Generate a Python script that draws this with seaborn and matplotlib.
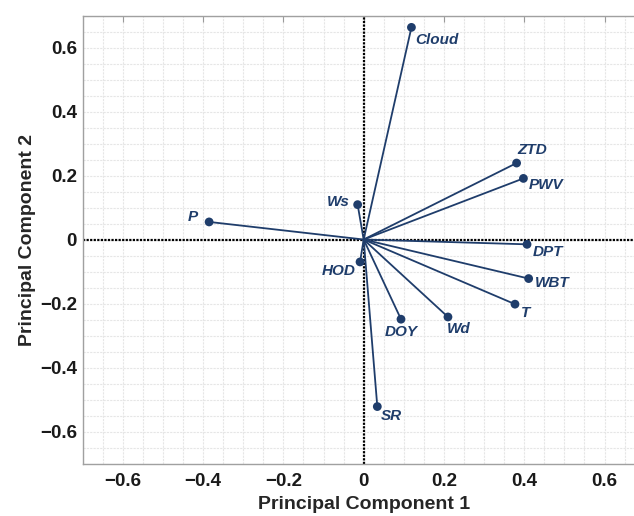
import pandas as pd
import matplotlib
matplotlib.use("Agg")
import matplotlib.pyplot as plt
import seaborn as sns
from matplotlib.ticker import MultipleLocator, FuncFormatter

# PCA loadings
variables = ['Cloud', 'ZTD', 'PWV', 'Ws', 'P', 'DPT', 'HOD', 'WBT', 'T', 'DOY', 'Wd', 'SR']
pc1 = [0.119, 0.381, 0.398, -0.015, -0.385, 0.407, -0.009, 0.411, 0.377, 0.093, 0.210, 0.034]
pc2 = [0.663, 0.239, 0.191, 0.109, 0.055, -0.015, -0.070, -0.122, -0.202, -0.249, -0.242, -0.522]

# label placement (pixel offsets from the point, horizontal alignment)
label_pos = {
    'Cloud': (4, -13, 'left'),
    'ZTD': (1, 13, 'left'),
    'PWV': (5, -7, 'left'),
    'Ws': (-8, 3, 'right'),
    'P': (-11, 5, 'right'),
    'DPT': (6, -8, 'left'),
    'HOD': (-4, -9, 'right'),
    'WBT': (6, -4, 'left'),
    'T': (6, -9, 'left'),
    'DOY': (0, -13, 'center'),
    'Wd': (-1, -12, 'left'),
    'SR': (4, -9, 'left'),
}

sns.set_theme(style='white')
plt.rcParams['font.family'] = ['Liberation Sans', 'DejaVu Sans']
plt.rcParams['axes.unicode_minus'] = True

navy = '#1f3d6b'

# long table: one row for the origin and one for the tip of every vector
rows = []
for v, x, y in zip(variables, pc1, pc2):
    rows.append({'var': v, 'pc1': 0.0, 'pc2': 0.0, 'end': 0})
    rows.append({'var': v, 'pc1': x, 'pc2': y, 'end': 1})
df = pd.DataFrame(rows)
tips = pd.DataFrame({'var': variables, 'pc1': pc1, 'pc2': pc2})

fig = plt.figure(figsize=(6.34, 5.16), dpi=100)
ax = fig.add_axes([0.1304, 0.1017, 0.8864, 0.8682])

ax.axhline(0, color='black', ls=(0, (1, 0.6)), lw=1.6, zorder=2)
ax.axvline(0, color='black', ls=(0, (1, 0.6)), lw=1.6, zorder=2)

sns.lineplot(data=df, x='pc1', y='pc2', units='var', estimator=None, sort=False,
             color=navy, lw=1.3, ax=ax, zorder=3)
sns.scatterplot(data=tips, x='pc1', y='pc2', color=navy, s=40, edgecolor='none',
                ax=ax, zorder=4)

for v, x, y in zip(variables, pc1, pc2):
    dx, dy, ha = label_pos[v]
    ax.annotate(v, (x, y), xytext=(dx, dy), textcoords='offset pixels',
                ha=ha, va='center', fontsize=11, fontweight='bold',
                fontstyle='italic', color=navy, zorder=5)

ax.set_xlim(-0.7, 0.7)
ax.set_ylim(-0.7, 0.7)

fmt = FuncFormatter(lambda v, p: ('%g' % round(v, 2)).replace('-', '\u2212'))
for axis in (ax.xaxis, ax.yaxis):
    axis.set_major_locator(MultipleLocator(0.2))
    axis.set_minor_locator(MultipleLocator(0.05))
    axis.set_major_formatter(fmt)

ax.grid(which='both', color='#e6e6e6', lw=0.8, ls=(0, (2, 1)), zorder=0)
ax.set_axisbelow(True)

ax.tick_params(which='major', direction='in', length=4, width=0.8, color='#9a9a9a',
               top=True, right=True, labelsize=13.5, labelcolor='#1a1a1a')
ax.tick_params(axis='x', which='major', pad=7)
ax.tick_params(axis='y', which='major', pad=4)
ax.tick_params(which='minor', length=0)
for lab in ax.get_xticklabels() + ax.get_yticklabels():
    lab.set_fontweight('bold')

for side in ['left', 'bottom', 'top']:
    ax.spines[side].set_color('#a0a0a0')
    ax.spines[side].set_linewidth(1.0)
ax.spines['right'].set_visible(False)

ax.set_xlabel('Principal Component 1', fontsize=14, fontweight='bold', color='#262626', labelpad=4)
ax.set_ylabel('Principal Component 2', fontsize=14, fontweight='bold', color='#262626', labelpad=3)

fig.savefig('out.png', dpi=100)
